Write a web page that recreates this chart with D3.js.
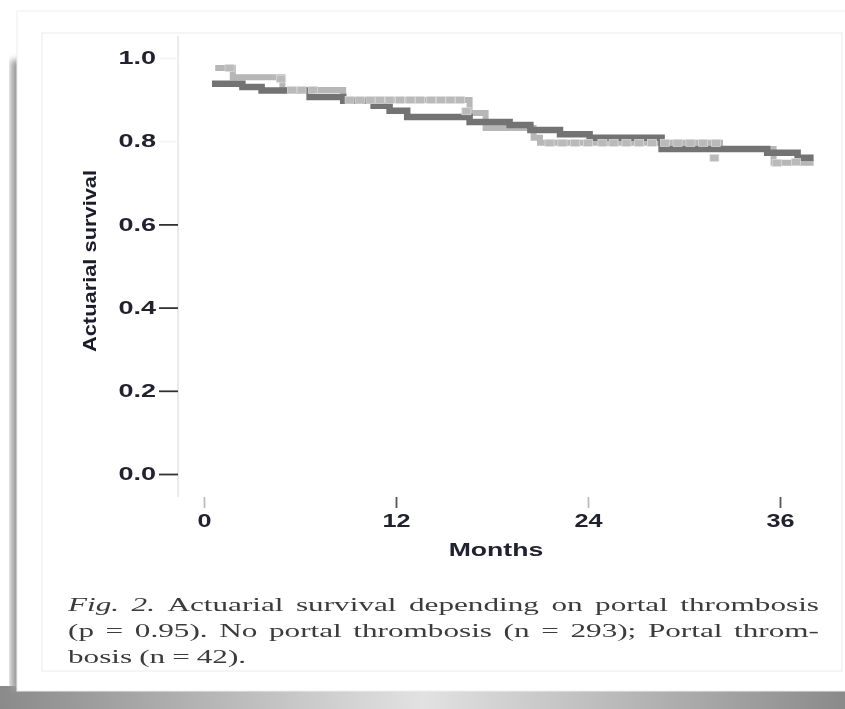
<!DOCTYPE html>
<html>
<head>
<meta charset="utf-8">
<script src="https://cdn.jsdelivr.net/npm/d3@7"></script>
<style>
  body { margin: 0; background: #fff; }
  svg { display: block; }
</style>
</head>
<body>
<div id="chart"></div>
<script>
// survival steps (months, actuarial survival)
const noPtTime = [0.5, 2.4, 3.6, 6.6, 8.7, 10.6, 11.6, 12.7, 16.6, 19.1, 20.4, 22.25, 24.1, 28.6, 35.2, 37.1, 38.1];
const noPtSurv = [0.938, 0.930, 0.922, 0.906, 0.897, 0.885, 0.873, 0.858, 0.846, 0.839, 0.827, 0.817, 0.808, 0.781, 0.772, 0.760, 0.760];

const ptTime = [0.7, 1.8, 4.9, 8.7, 16.6, 17.6, 20.6, 21.0, 32.25, 35.6, 38.1];
const ptSurv = [0.976, 0.954, 0.923, 0.899, 0.868, 0.832, 0.808, 0.796, 0.781, 0.748, 0.748];

// censored observations, portal thrombosis group
const ptCensTime = [1.6, 4.8, 5.5, 6.1, 6.8, 9.1, 9.75, 10.4, 11.0, 11.6, 12.25, 12.9, 13.5, 14.2, 14.8, 15.4, 16.0, 16.4,
    21.6, 22.4, 23.2, 24.0, 24.9, 25.6, 26.4, 27.2, 28.0, 28.8, 29.6, 30.4, 31.2, 32.0, 31.9, 35.8, 37.0];
const ptCensSurv = [0.976, 0.950, 0.923, 0.923, 0.923, 0.899, 0.899, 0.899, 0.899, 0.899, 0.899, 0.899, 0.899, 0.899, 0.899, 0.899, 0.899, 0.872,
    0.796, 0.796, 0.796, 0.796, 0.796, 0.796, 0.796, 0.796, 0.796, 0.796, 0.796, 0.796, 0.796, 0.796, 0.760, 0.748, 0.750];

const yTicks = [0, 0.2, 0.4, 0.6, 0.8, 1.0];
const xTicks = [0, 12, 24, 36];

const captionLines = [
    [{t: 'Fig.', i: true}, {t: '2.', i: true}, 'Actuarial', 'survival', 'depending', 'on', 'portal', 'thrombosis'],
    ['(p', '=', '0.95).', 'No', 'portal', 'thrombosis', '(n', '=', '293);', 'Portal', 'throm-'],
    ['bosis', '(n', '=', '42).']
];

const width = 845, height = 709;
const sans = 'Liberation Sans, Arial, sans-serif';
const serif = 'Liberation Serif, Times New Roman, serif';

// the scanned figure is wider than it is tall: widen glyphs
function stretch(sel, k) {
    sel.each(function () {
        const w = this.getComputedTextLength();
        d3.select(this)
            .attr('textLength', w * k)
            .attr('lengthAdjust', 'spacingAndGlyphs');
    });
}

const svg = d3.select('#chart').append('svg')
    .attr('width', width)
    .attr('height', height);

const defs = svg.append('defs');
const shade = defs.append('linearGradient').attr('id', 'shade');
shade.append('stop').attr('offset', '0%').attr('stop-color', '#8a8a8a');
shade.append('stop').attr('offset', '50%').attr('stop-color', '#e2e2e2');
shade.append('stop').attr('offset', '100%').attr('stop-color', '#8a8a8a');
defs.append('filter').attr('id', 'soft')
  .append('feGaussianBlur').attr('stdDeviation', 0.7);
defs.append('filter').attr('id', 'shadowBlur')
  .append('feGaussianBlur').attr('stdDeviation', 3);

// card with shadow
svg.append('rect')
    .attr('x', 0).attr('y', 686).attr('width', width).attr('height', 23)
    .attr('fill', 'url(#shade)');
svg.append('rect')
    .attr('x', 11).attr('y', 60).attr('width', 12).attr('height', 630)
    .attr('fill', '#9a9a9a')
    .attr('filter', 'url(#shadowBlur)');
svg.append('rect')
    .attr('x', 17).attr('y', 11).attr('width', 840).attr('height', 680)
    .attr('fill', '#fff')
    .attr('stroke', '#eee');
svg.append('rect')
    .attr('x', 42).attr('y', 33).attr('width', 800).attr('height', 638)
    .attr('fill', 'none')
    .attr('stroke', '#ececec');

const x = d3.scaleLinear().domain([0, 36]).range([204, 780]);
const y = d3.scaleLinear().domain([0, 1]).range([474, 58]);

const plot = svg.append('g').attr('filter', 'url(#soft)');

// y axis
plot.append('line')
    .attr('x1', 178).attr('x2', 178)
    .attr('y1', 36).attr('y2', 497)
    .attr('stroke', '#e4e4e4')
    .attr('stroke-width', 1.5);

const yAxis = plot.append('g')
    .attr('transform', 'translate(178,0)')
    .call(d3.axisLeft(y).tickValues(yTicks).tickFormat(d3.format('.1f')).tickSize(19).tickPadding(3));
yAxis.select('.domain').remove();
yAxis.selectAll('.tick line')
    .attr('stroke', d => d >= 0.8 ? '#f4f4f4' : '#333')
    .attr('stroke-width', 1.8);
yAxis.selectAll('.tick text')
    .attr('font-family', sans)
    .attr('font-weight', 'bold')
    .attr('font-size', 18)
    .attr('fill', '#22222e')
    .call(stretch, 1.5);

const xAxis = plot.append('g')
    .attr('transform', 'translate(0,497)')
    .call(d3.axisBottom(x).tickValues(xTicks).tickSize(11).tickPadding(6));
xAxis.select('.domain').remove();
xAxis.selectAll('.tick line')
    .attr('stroke', (d, i) => i % 2 ? '#555' : '#bbb')
    .attr('stroke-width', 1.8);
xAxis.selectAll('.tick text')
    .attr('font-family', sans)
    .attr('font-weight', 'bold')
    .attr('font-size', 18)
    .attr('fill', '#22222e')
    .call(stretch, 1.4);

plot.append('text')
    .attr('x', 496).attr('y', 556)
    .attr('text-anchor', 'middle')
    .attr('font-family', sans)
    .attr('font-weight', 'bold')
    .attr('font-size', 19)
    .attr('fill', '#22222e')
    .text('Months')
    .call(stretch, 1.4);

plot.append('text')
    .attr('transform', 'translate(96,261) rotate(-90)')
    .attr('text-anchor', 'middle')
    .attr('font-family', sans)
    .attr('font-weight', 'bold')
    .attr('font-size', 19)
    .attr('fill', '#1a1a2a')
    .text('Actuarial survival')
    .call(stretch, 1.15);

// curves
const step = d3.line()
    .x(d => x(d[0]))
    .y(d => y(d[1]))
    .curve(d3.curveStepAfter);

plot.append('path')
    .datum(d3.zip(ptTime, ptSurv))
    .attr('d', step)
    .attr('fill', 'none')
    .attr('stroke', '#b7b7b7')
    .attr('stroke-width', 6);

plot.append('path')
    .datum(d3.zip(noPtTime, noPtSurv))
    .attr('d', step)
    .attr('fill', 'none')
    .attr('stroke', '#737373')
    .attr('stroke-width', 6.5);

plot.selectAll('.cens')
    .data(d3.zip(ptCensTime, ptCensSurv))
  .enter().append('rect')
    .classed('cens', true)
    .attr('x', d => x(d[0]) - 4.5)
    .attr('y', d => y(d[1]) - 3.5)
    .attr('width', 9)
    .attr('height', 7)
    .attr('fill', '#bababa')
    .attr('stroke', '#dedede')
    .attr('stroke-width', 0.7);

// caption, justified between x0 and x1
const cap = svg.append('g').attr('filter', 'url(#soft)');
const x0 = 68, x1 = 819;
captionLines.forEach((words, li) => {
    const by = 611 + li * 26;
    const nodes = words.map(w => {
        const word = typeof w === 'string' ? {t: w} : w;
        return cap.append('text')
            .attr('y', by)
            .attr('font-family', serif)
            .attr('font-size', 19.5)
            .attr('font-style', word.i ? 'italic' : 'normal')
            .attr('fill', '#3a3a3a')
            .text(word.t)
            .call(stretch, 1.6);
    });
    const widths = nodes.map(n => +n.attr('textLength'));
    const total = d3.sum(widths);
    const last = li === captionLines.length - 1;
    const gap = last ? 7 : (x1 - x0 - total) / (nodes.length - 1);
    let cx = x0;
    nodes.forEach((n, i) => {
        n.attr('x', cx);
        cx += widths[i] + gap;
    });
});
</script>
</body>
</html>
